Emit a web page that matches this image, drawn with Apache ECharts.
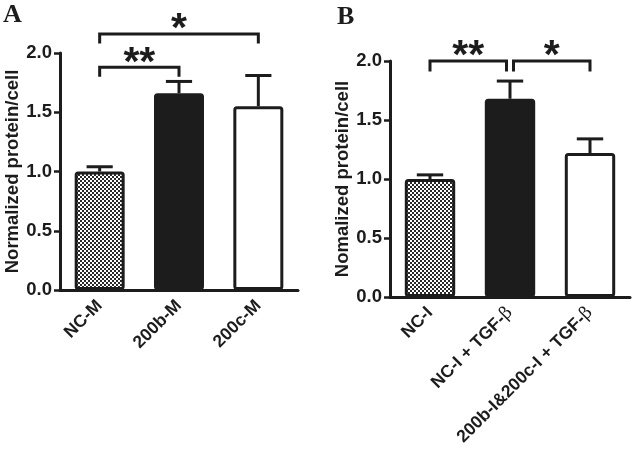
<!DOCTYPE html>
<html><head><meta charset="utf-8">
<script src="https://cdn.jsdelivr.net/npm/echarts@6/dist/echarts.min.js"></script>
<style>html,body{margin:0;padding:0;background:#fff}#c{width:633px;height:458px}</style>
</head><body><div id="c"></div>
<script>
// ---- data ----
const categoriesA = ['NC-M', '200b-M', '200c-M'];
const valuesA = [1.00, 1.66, 1.55];
const errorsA = [0.04, 0.10, 0.26];
const categoriesB = ['NC-I', 'NC-I + TGF-β', '200b-I&200c-I + TGF-β'];
const valuesB = [1.00, 1.68, 1.22];
const errorsB = [0.035, 0.15, 0.12];
const yTicks = [0.0, 0.5, 1.0, 1.5, 2.0];
const bracketsA = [[0, 1, 1.88, 1.80], [0, 2, 2.16, 2.08]];
const bracketLabelsA = ['**', '*'];
const bracketsB = [[0, 1, 2.00, 1.91], [1, 2, 2.00, 1.91]];
const bracketLabelsB = ['**', '*'];
const yNameA = 'Normalized protein/cell';
const yNameB = 'Nomalized protein/cell';

// ---- styles ----
const INK = '#1c1c1c';
const SANS = '"Liberation Sans", Arial, Helvetica, sans-serif';
function checker() {
  const c = document.createElement('canvas');
  c.width = 4; c.height = 4;
  const g = c.getContext('2d');
  g.fillStyle = '#ffffff'; g.fillRect(0, 0, 4, 4);
  g.fillStyle = '#2a2a2a'; g.fillRect(0, 0, 2, 2); g.fillRect(2, 2, 2, 2);
  return { image: c, repeat: 'repeat' };
}
const fills = [checker(), INK, '#ffffff'];

function errorItem(params, api) {
  const i = api.value(0), v = api.value(1), e = api.value(2);
  const p0 = api.coord([i, v]);
  const p1 = api.coord([i, v + e]);
  const hw = api.size([1, 0])[0] * 0.165;
  const st = { stroke: INK, lineWidth: 3 };
  return { type: 'group', children: [
    { type: 'line', shape: { x1: p0[0], y1: p0[1], x2: p1[0], y2: p1[1] }, style: st },
    { type: 'line', shape: { x1: p1[0] - hw, y1: p1[1], x2: p1[0] + hw, y2: p1[1] }, style: st }
  ]};
}
function bracketRenderer(list, labels) {
  return function (params, api) {
    const idx = params.dataIndex;
    const from = api.value(0), to = api.value(1), top = api.value(2), leg = api.value(3);
    let sL = 0, sR = 0;
    list.forEach((b, k) => {
      if (k === idx) return;
      if (b[1] === from) sL = 3.5;
      if (b[0] === to) sR = -3.5;
    });
    const a = api.coord([from, top]), b = api.coord([to, top]);
    const la = api.coord([from, leg]);
    const x1 = a[0] + sL, x2 = b[0] + sR;
    return { type: 'group', children: [
      { type: 'polyline', shape: { points: [[x1, la[1]], [x1, a[1]], [x2, a[1]], [x2, la[1]]] },
        style: { stroke: INK, lineWidth: 3, fill: null } },
      { type: 'text', x: (x1 + x2) / 2, y: a[1] - 4,
        style: { text: labels[idx], fill: INK, font: 'bold 41px ' + SANS, align: 'center', verticalAlign: 'middle' } }
    ]};
  };
}

function xAxis(cats, gi) {
  return {
    type: 'category', gridIndex: gi, data: cats,
    axisLine: { lineStyle: { color: INK, width: 3 } },
    axisTick: { show: false },
    axisLabel: {
      rotate: 45, margin: 13, color: INK, fontFamily: SANS, fontWeight: 'bold', fontSize: 17.5,
      formatter: v => v.replace('β', '{b|β}'),
      rich: { b: { fontFamily: '"DejaVu Serif", "Liberation Serif", serif', fontWeight: 'normal', fontSize: 17.5, color: INK } }
    }
  };
}
function yAxis(name, gi) {
  return {
    type: 'value', gridIndex: gi, min: yTicks[0], max: yTicks[yTicks.length - 1],
    interval: yTicks[1] - yTicks[0],
    name: name, nameLocation: 'middle', nameGap: 38,
    nameTextStyle: { color: INK, fontFamily: SANS, fontWeight: 'bold', fontSize: 18.5 },
    axisLine: { show: true, lineStyle: { color: INK, width: 3 } },
    axisTick: { show: true, length: 6, lineStyle: { color: INK, width: 2.5 } },
    axisLabel: { margin: 8, color: INK, fontFamily: SANS, fontWeight: 'bold', fontSize: 18.5, formatter: v => v.toFixed(1) },
    splitLine: { show: false }
  };
}
function barSeries(vals, gi) {
  return {
    type: 'bar', xAxisIndex: gi, yAxisIndex: gi, barWidth: '63%',
    data: vals.map((v, i) => ({ value: v, itemStyle: { color: fills[i] } })),
    itemStyle: { borderColor: INK, borderWidth: 3, borderRadius: 2 },
    emphasis: { disabled: true }, animation: false
  };
}
function errSeries(vals, errs, gi) {
  return {
    type: 'custom', xAxisIndex: gi, yAxisIndex: gi, renderItem: errorItem, clip: false,
    data: vals.map((v, i) => [i, v, errs[i]]), z: 3, animation: false
  };
}
function brSeries(list, labels, gi) {
  return {
    type: 'custom', xAxisIndex: gi, yAxisIndex: gi, clip: false,
    renderItem: bracketRenderer(list, labels), data: list, z: 4, animation: false
  };
}

const chart = echarts.init(document.getElementById('c'), null, { renderer: 'canvas' });
chart.setOption({
  backgroundColor: '#fff',
  animation: false,
  title: [
    { text: 'A', left: -2, top: -3, textStyle: { fontFamily: '"Liberation Serif", "Times New Roman", serif', fontWeight: 'bold', fontSize: 26, color: INK } },
    { text: 'B', left: 332, top: -1, textStyle: { fontFamily: '"Liberation Serif", "Times New Roman", serif', fontWeight: 'bold', fontSize: 26, color: INK } }
  ],
  grid: [
    { left: 60, top: 53, width: 238, height: 237 },
    { left: 390, top: 61, width: 240, height: 236 }
  ],
  xAxis: [xAxis(categoriesA, 0), xAxis(categoriesB, 1)],
  yAxis: [yAxis(yNameA, 0), yAxis(yNameB, 1)],
  series: [
    barSeries(valuesA, 0), errSeries(valuesA, errorsA, 0), brSeries(bracketsA, bracketLabelsA, 0),
    barSeries(valuesB, 1), errSeries(valuesB, errorsB, 1), brSeries(bracketsB, bracketLabelsB, 1)
  ]
});
</script></body></html>
